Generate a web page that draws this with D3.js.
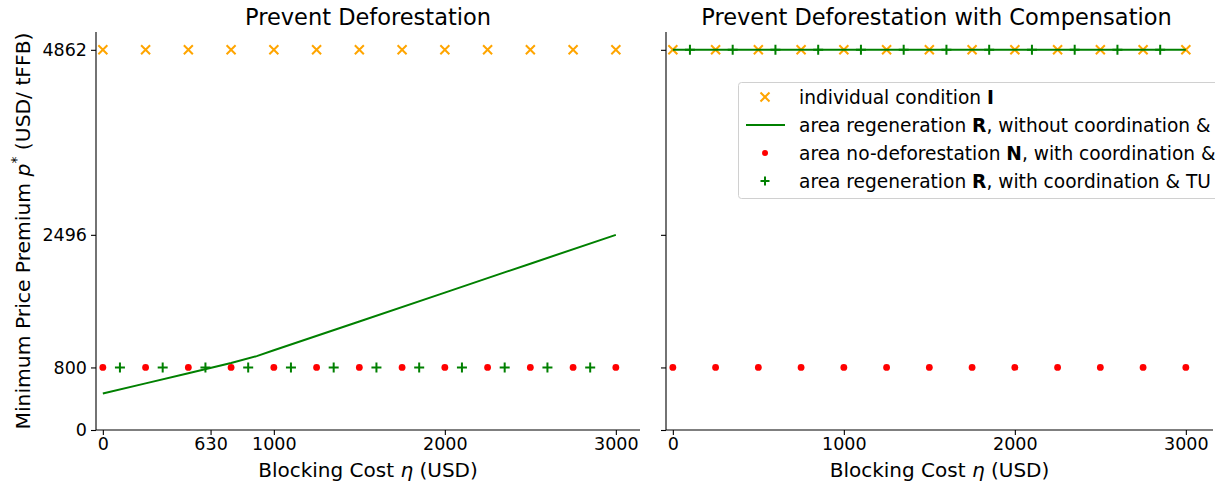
<!DOCTYPE html>
<html><head><meta charset="utf-8">
<script src="https://cdn.jsdelivr.net/npm/d3@7"></script>
<style>
body{margin:0;background:#fff;}
text{font-family:"DejaVu Sans",sans-serif;}
</style></head>
<body><svg id="c" width="1215" height="487"></svg>
<script>
// ---- data ----
const etaMarkers = [0,250,500,750,1000,1250,1500,1750,2000,2250,2500,2750,3000];
const etaPlus = [100,350,600,850,1100,1350,1600,1850,2100,2350,2600,2850];
const individualI = [4862,4862,4862,4862,4862,4862,4862,4862,4862,4862,4862,4862,4862];
const areaN = [800,800,800,800,800,800,800,800,800,800,800,800,800];
const areaRCoordLeft = [800,800,800,800,800,800,800,800,800,800,800,800];
const areaRCoordRight = [4862,4862,4862,4862,4862,4862,4862,4862,4862,4862,4862,4862];
const etaLineLeft = [0,250,500,750,900,1000,1500,2000,2500,3000];
const areaRNoCoordLeft = [467,596,725,856,945,1019,1388,1757,2127,2496];
const etaLineRight = [0,3000];
const areaRNoCoordRight = [4862,4862];
const yTicks = [0,800,2496,4862];
const xTicksLeft = [0,630,1000,2000,3000];
const xTicksRight = [0,1000,2000,3000];
const titles = ["Prevent Deforestation","Prevent Deforestation with Compensation"];

const svg = d3.select("#c");
const ORANGE="#FFA500", GREEN="#008000", RED="#FF0000";
const y = d3.scaleLinear().domain([0,5090]).range([430,32]);

const panels = [
  {x0:96, x1:640, xticks:xTicksLeft, showY:true, title:titles[0],
   lineX:etaLineLeft, lineY:areaRNoCoordLeft, plusY:areaRCoordLeft},
  {x0:666, x1:1213, xticks:xTicksRight, showY:false, title:titles[1],
   lineX:etaLineRight, lineY:areaRNoCoordRight, plusY:areaRCoordRight}
];

function xMark(g, cx, cy, s, col){
  g.append("path").attr("d",`M${cx-s},${cy-s}L${cx+s},${cy+s}M${cx-s},${cy+s}L${cx+s},${cy-s}`)
   .attr("stroke",col).attr("stroke-width",2).attr("fill","none");
}
function plusMark(g, cx, cy, s, col){
  g.append("path").attr("d",`M${cx-s},${cy}L${cx+s},${cy}M${cx},${cy-s}L${cx},${cy+s}`)
   .attr("stroke",col).attr("stroke-width",2).attr("fill","none");
}

panels.forEach(p=>{
  const x = d3.scaleLinear().domain([-40,3150]).range([p.x0, p.x0 + 3190*0.171]);
  const g = svg.append("g");
  const ya = d3.axisLeft(y).tickValues(yTicks).tickSize(5).tickPadding(4)
    .tickFormat(p.showY ? d3.format("d") : "");
  const gy = g.append("g").attr("transform",`translate(${p.x0},0)`).call(ya);
  gy.select(".domain").attr("d",`M0,32V430`);
  const xa = d3.axisBottom(x).tickValues(p.xticks).tickSize(5).tickPadding(3).tickFormat(d3.format("d"));
  const gx = g.append("g").attr("transform","translate(0,430)").call(xa);
  gx.select(".domain").attr("d",`M${p.x0},0H${p.x1}`);
  [gx,gy].forEach(a=>{
    a.selectAll("text").attr("font-size",17.5).attr("fill","#000").style("font-family","DejaVu Sans");
    a.selectAll("line,.domain").attr("stroke","#000").attr("stroke-width",1.1);
  });
  g.append("text").attr("x",(p.x0+p.x1)/2+ (p.showY?0:-3)).attr("y",25).attr("text-anchor","middle")
    .attr("font-size",22.5).text(p.title);
  const xl = g.append("text").attr("x",(p.x0+p.x1)/2).attr("y",477).attr("text-anchor","middle").attr("font-size",20);
  xl.append("tspan").text("Blocking Cost ");
  xl.append("tspan").attr("font-style","italic").text("η");
  xl.append("tspan").text(" (USD)");

  const clip = g.append("g");
  etaMarkers.forEach((e,i)=> xMark(clip, x(e), y(individualI[i]), 4.5, ORANGE));
  clip.append("path").datum(p.lineX.map((e,i)=>[e,p.lineY[i]]))
    .attr("d", d3.line().x(d=>x(d[0])).y(d=>y(d[1])))
    .attr("fill","none").attr("stroke",GREEN).attr("stroke-width",2);
  clip.selectAll("circle.n").data(etaMarkers).enter().append("circle")
    .attr("cx",d=>x(d)).attr("cy",(d,i)=>y(areaN[i])).attr("r",3.4).attr("fill",RED);
  etaPlus.forEach((e,i)=> plusMark(clip, x(e), y(p.plusY[i]), 5, GREEN));
});

const yl = svg.append("text").attr("transform","translate(30,231) rotate(-90)")
  .attr("text-anchor","middle").attr("font-size",20.3);
yl.append("tspan").text("Minimum Price Premium ");
yl.append("tspan").attr("font-style","italic").text("p");
yl.append("tspan").attr("font-size",14).attr("dy",-9).text("*");
yl.append("tspan").attr("dy",9).text("  (USD/ tFFB)");

const lg = svg.append("g");
lg.append("rect").attr("x",738.5).attr("y",82.5).attr("width",520).attr("height",116).attr("rx",3)
  .attr("fill","#fff").attr("fill-opacity",0.8).attr("stroke","#d0d0d0").attr("stroke-width",1);
const legendItems = [
  {kind:"x", parts:[["individual condition ",false],["I",true]]},
  {kind:"line", parts:[["area regeneration ",false],["R",true],[", without coordination &",false]]},
  {kind:"dot", parts:[["area no-deforestation ",false],["N",true],[", with coordination &",false]]},
  {kind:"plus", parts:[["area regeneration ",false],["R",true],[", with coordination & TU",false]]}
];
legendItems.forEach((it,i)=>{
  const cy = 97 + i*28;
  if(it.kind==="x") xMark(lg,765,cy,4.5,ORANGE);
  if(it.kind==="line") lg.append("line").attr("x1",746).attr("x2",785).attr("y1",cy).attr("y2",cy).attr("stroke",GREEN).attr("stroke-width",2);
  if(it.kind==="dot") lg.append("circle").attr("cx",765).attr("cy",cy).attr("r",3).attr("fill",RED);
  if(it.kind==="plus") plusMark(lg,765,cy,4.5,GREEN);
  const t = lg.append("text").attr("x",799).attr("y",cy+6.5).attr("font-size",18.6);
  it.parts.forEach(pt=> t.append("tspan").attr("font-weight",pt[1]?"bold":"normal").text(pt[0]));
});
</script></body></html>
